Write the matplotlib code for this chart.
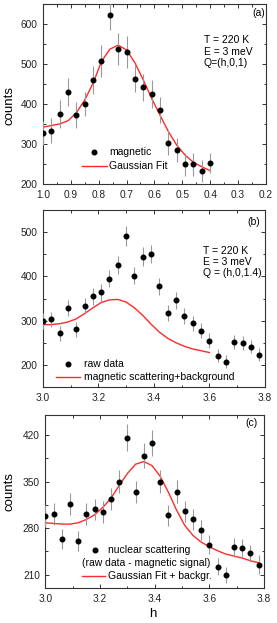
import matplotlib
matplotlib.use('Agg')
from matplotlib import pyplot as plt
from matplotlib.ticker import MultipleLocator

plt.rcParams['font.family'] = ['Liberation Sans', 'DejaVu Sans']

# (a) magnetic signal, Q=(h,0,1)
h_a = [1.00, 0.97, 0.94, 0.91, 0.88, 0.85, 0.82, 0.79, 0.76, 0.73, 0.70,
       0.67, 0.64, 0.61, 0.58, 0.55, 0.52, 0.49, 0.46, 0.43, 0.40]
counts_a = [328, 333, 376, 430, 372, 399, 460, 507, 622, 537, 529,
            463, 442, 426, 385, 303, 285, 249, 249, 232, 253]
err_a = [30, 31, 35, 35, 33, 30, 35, 40, 37, 40, 40,
         34, 34, 35, 32, 31, 31, 28, 28, 27, 25]
fit_a = [342, 346, 350, 358, 378, 410, 452, 506, 537, 547, 535,
         503, 460, 414, 372, 331, 297, 272, 254, 243, 233]

# (b) raw data, Q=(h,0,1.4)
h_b = [3.00, 3.03, 3.06, 3.09, 3.12, 3.15, 3.18, 3.21, 3.24, 3.27, 3.30,
       3.33, 3.36, 3.39, 3.42, 3.45, 3.48, 3.51, 3.54, 3.57, 3.60,
       3.63, 3.66, 3.69, 3.72, 3.75, 3.78]
counts_b = [300, 303, 271, 329, 281, 333, 355, 364, 395, 426, 491,
            402, 445, 451, 378, 317, 346, 310, 294, 277, 255,
            221, 207, 251, 249, 241, 223]
err_b = [18, 17, 16, 18, 17, 18, 19, 19, 20, 21, 22,
         20, 21, 21, 19, 18, 19, 18, 17, 17, 16,
         15, 15, 16, 16, 15, 15]
fit_h_b = h_b[:21]
fit_b = [291, 291, 293, 297, 304, 316, 329, 341, 347, 348, 342,
         329, 312, 292, 274, 260, 250, 242, 236, 232, 228]

# (c) nuclear scattering = raw - magnetic
counts_c = [298, 301, 264, 316, 260, 301, 308, 304, 324, 350, 416,
            334, 389, 408, 350, 299, 335, 305, 293, 277, 255,
            222, 209, 251, 250, 242, 225]
err_c = [16, 16, 15, 16, 15, 16, 16, 16, 17, 18, 20,
         17, 19, 20, 18, 16, 17, 16, 16, 15, 14,
         13, 12, 14, 14, 13, 14]
fit_c = [288, 287, 286, 286, 288, 293, 300, 311, 325, 344, 362,
         376, 380, 374, 358, 334, 307, 284, 269, 259, 252,
         246, 241, 238, 235, 231, 228]

RED = '#ff2a2a'
FS = 7.5

fig = plt.figure(figsize=(2.77, 6.23), dpi=100)
ax_a = fig.add_axes([0.155, 0.7047, 0.805, 0.289])
ax_b = fig.add_axes([0.155, 0.3788, 0.801, 0.284])
ax_c = fig.add_axes([0.164, 0.0562, 0.789, 0.2777])


def style(ax, xmaj, xmin, ymaj, ymin):
    ax.xaxis.set_major_locator(MultipleLocator(xmaj))
    ax.xaxis.set_minor_locator(MultipleLocator(xmin))
    ax.yaxis.set_major_locator(MultipleLocator(ymaj))
    ax.yaxis.set_minor_locator(MultipleLocator(ymin))
    ax.tick_params(which='both', direction='in', top=True, right=True,
                   labelsize=7.3, labelcolor='#222222', color='#333333', pad=4)
    ax.tick_params(which='major', length=2.6, width=0.7)
    ax.tick_params(which='minor', length=1.8, width=0.7)
    for s in ax.spines.values():
        s.set_linewidth(0.8)
        s.set_color('#333333')


def points(ax, x, y, e):
    ax.errorbar(x, y, yerr=e, fmt='o', ms=3.3, color='black', mec='black',
                ecolor='0.6', elinewidth=0.8, capsize=0, zorder=3)


def key_marker(ax, x, y, text, tx):
    ax.plot([x], [y], 'o', ms=3.3, color='black', transform=ax.transAxes, clip_on=False)
    ax.text(tx, y, text, transform=ax.transAxes, fontsize=FS, va='center', ha='left')


def key_line(ax, x0, x1, y, text, tx):
    ax.plot([x0, x1], [y, y], color=RED, lw=1.0, transform=ax.transAxes, clip_on=False)
    ax.text(tx, y, text, transform=ax.transAxes, fontsize=FS, va='center', ha='left')


# ---- (a)
points(ax_a, h_a, counts_a, err_a)
ax_a.plot(h_a, fit_a, color=RED, lw=1.0, zorder=2)
ax_a.set_xlim(1.0, 0.2)
ax_a.set_ylim(200, 650)
style(ax_a, 0.1, 0.05, 100, 50)
ax_a.set_ylabel('counts', fontsize=9.5)
ax_a.yaxis.set_label_coords(-0.125, 0.435)
ax_a.text(0.995, 0.952, '(a)', transform=ax_a.transAxes, fontsize=FS, ha='right', va='center')
for txt, yy in [('T = 220 K', 0.80), ('E = 3 meV', 0.735), ('Q=(h,0,1)', 0.67)]:
    ax_a.text(0.722, yy, txt, transform=ax_a.transAxes, fontsize=FS, va='center')
key_marker(ax_a, 0.2297, 0.178, 'magnetic', 0.297)
key_line(ax_a, 0.1757, 0.288, 0.10, 'Gaussian Fit', 0.297)

# ---- (b)
points(ax_b, h_b, counts_b, err_b)
ax_b.plot(fit_h_b, fit_b, color=RED, lw=1.0, zorder=2)
ax_b.set_xlim(3.0, 3.8)
ax_b.set_ylim(150, 550)
style(ax_b, 0.2, 0.1, 100, 50)
ax_b.text(0.977, 0.934, '(b)', transform=ax_b.transAxes, fontsize=FS, ha='right', va='center')
for txt, yy in [('T = 220 K', 0.77), ('E = 3 meV', 0.708), ('Q = (h,0,1.4)', 0.646)]:
    ax_b.text(0.722, yy, txt, transform=ax_b.transAxes, fontsize=FS, va='center')
key_marker(ax_b, 0.111, 0.13, 'raw data', 0.183)
key_line(ax_b, 0.0586, 0.1667, 0.058, 'magnetic scattering+background', 0.183)

# ---- (c)
points(ax_c, h_b, counts_c, err_c)
ax_c.plot(h_b, fit_c, color=RED, lw=1.0, zorder=2)
ax_c.set_xlim(3.0, 3.8)
ax_c.set_ylim(190, 450)
style(ax_c, 0.2, 0.1, 70, 35)
ax_c.set_ylabel('counts', fontsize=9.5)
ax_c.yaxis.set_label_coords(-0.135, 0.557)
ax_c.set_xlabel('h', fontsize=9.5)
ax_c.xaxis.set_label_coords(0.49, -0.115)
ax_c.text(0.9725, 0.952, '(c)', transform=ax_c.transAxes, fontsize=FS, ha='right', va='center')
key_marker(ax_c, 0.2265, 0.2197, 'nuclear scattering', 0.285)
ax_c.text(0.46, 0.1445, '(raw data - magnetic signal)', transform=ax_c.transAxes,
          fontsize=FS, ha='center', va='center')
key_line(ax_c, 0.167, 0.272, 0.0694, 'Gaussian Fit + backgr.', 0.286)

fig.savefig('out.png', dpi=100)
